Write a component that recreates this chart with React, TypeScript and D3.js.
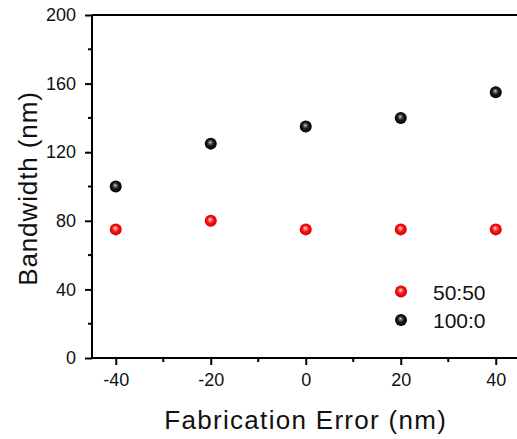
import { useRef, useEffect } from 'react';
import { select, scaleLinear, axisBottom, axisLeft, range } from 'd3';

const errors = [-40, -20, 0, 20, 40];
const bw5050 = [75, 80, 75, 75, 75];
const bw1000 = [100, 125, 135, 140, 155];
const seriesNames = ['50:50', '100:0'];
const xTicks = [-40, -20, 0, 20, 40];
const yTicks = [0, 40, 80, 120, 160, 200];

const W = 517;
const H = 439;
const FONT = 'Liberation Sans, Arial, Helvetica, sans-serif';

const App = () => {
  const svgRef = useRef<SVGSVGElement>(null);

  useEffect(() => {
    const svg = select(svgRef.current);
    svg.selectAll('*').remove();

    const x = scaleLinear().domain([-45, 45]).range([92, 519.5]);
    const y = scaleLinear().domain([0, 200]).range([358, 15]);

    const defs = svg.append('defs');
    const grad = (id: string, stops: [string, string][]) => {
      const g = defs
        .append('radialGradient')
        .attr('id', id)
        .attr('cx', '50%')
        .attr('cy', '50%')
        .attr('r', '55%')
        .attr('fx', '45%')
        .attr('fy', '38%');
      stops.forEach(([o, c]) => g.append('stop').attr('offset', o).attr('stop-color', c));
    };
    grad('ballRed', [
      ['0%', '#ffffff'],
      ['22%', '#ff8080'],
      ['50%', '#ff1010'],
      ['85%', '#e00000'],
      ['100%', '#a00000'],
    ]);
    grad('ballBlack', [
      ['0%', '#d8d8d8'],
      ['20%', '#707070'],
      ['50%', '#151515'],
      ['100%', '#000000'],
    ]);

    // minor ticks
    const minorX = range(-30, 40, 20);
    const minorY = range(20, 200, 40);
    svg
      .append('g')
      .selectAll('line')
      .data(minorX)
      .join('line')
      .attr('x1', (d) => x(d))
      .attr('x2', (d) => x(d))
      .attr('y1', y(0))
      .attr('y2', y(0) + 4)
      .attr('stroke', '#000')
      .attr('stroke-width', 2);
    svg
      .append('g')
      .selectAll('line')
      .data(minorY)
      .join('line')
      .attr('x1', x(-45) - 4)
      .attr('x2', x(-45))
      .attr('y1', (d) => y(d))
      .attr('y2', (d) => y(d))
      .attr('stroke', '#000')
      .attr('stroke-width', 2);

    // frame top / right
    svg
      .append('path')
      .attr('d', `M${x(-45)},${y(200)}H${x(45)}V${y(0)}`)
      .attr('fill', 'none')
      .attr('stroke', '#000')
      .attr('stroke-width', 2);

    const fmt = (d: any) => String(d);
    const xAxis = axisBottom(x).tickValues(xTicks).tickFormat(fmt).tickSize(7).tickSizeOuter(0).tickPadding(8);
    const gx = svg.append('g').attr('transform', `translate(0,${y(0)})`).call(xAxis);

    const yAxis = axisLeft(y).tickValues(yTicks).tickFormat(fmt).tickSize(7).tickSizeOuter(0).tickPadding(9);
    const gy = svg.append('g').attr('transform', `translate(${x(-45)},0)`).call(yAxis);

    [gx, gy].forEach((g) => {
      g.select('.domain').attr('stroke-width', 2);
      g.selectAll('.tick line').attr('stroke-width', 2);
      g.selectAll('.tick text')
        .attr('font-family', FONT)
        .attr('font-size', 18)
        .attr('fill', '#111');
    });
    gx.select('.domain').attr('d', `M${x(-45)},0H${x(45)}`);
    gy.select('.domain').attr('d', `M0,${y(0)}V${y(200)}`);

    // data
    const series = [
      { values: bw5050, fill: 'url(#ballRed)' },
      { values: bw1000, fill: 'url(#ballBlack)' },
    ];
    series.forEach((s) => {
      svg
        .append('g')
        .selectAll('circle')
        .data(errors)
        .join('circle')
        .attr('cx', (d) => x(d))
        .attr('cy', (d, i) => y(s.values[i]))
        .attr('r', 6)
        .attr('fill', s.fill);
    });

    // legend
    const legend = svg.append('g').attr('transform', 'translate(401,291.5)');
    seriesNames.forEach((name, i) => {
      legend
        .append('circle')
        .attr('cx', 0)
        .attr('cy', i * 28.5)
        .attr('r', 6)
        .attr('fill', series[i].fill);
      legend
        .append('text')
        .attr('x', 32)
        .attr('y', i * 28.5 + 8)
        .attr('font-family', FONT)
        .attr('font-size', 21)
        .attr('fill', '#111')
        .text(name);
    });

    // axis titles
    svg
      .append('text')
      .attr('x', x(0))
      .attr('y', 429)
      .attr('text-anchor', 'middle')
      .attr('font-family', FONT)
      .attr('font-size', 26)
      .attr('letter-spacing', 1.3)
      .attr('fill', '#111')
      .text('Fabrication Error (nm)');
    svg
      .append('text')
      .attr('transform', `translate(37,188.5) rotate(-90)`)
      .attr('text-anchor', 'middle')
      .attr('font-family', FONT)
      .attr('font-size', 26)
      .attr('letter-spacing', 0.9)
      .attr('fill', '#111')
      .text('Bandwidth (nm)');
  }, []);

  return (
    <svg
      ref={svgRef}
      width={W}
      height={H}
      style={{ position: 'absolute', left: 0, top: 0, background: '#fff' }}
    />
  );
};

export default App;
